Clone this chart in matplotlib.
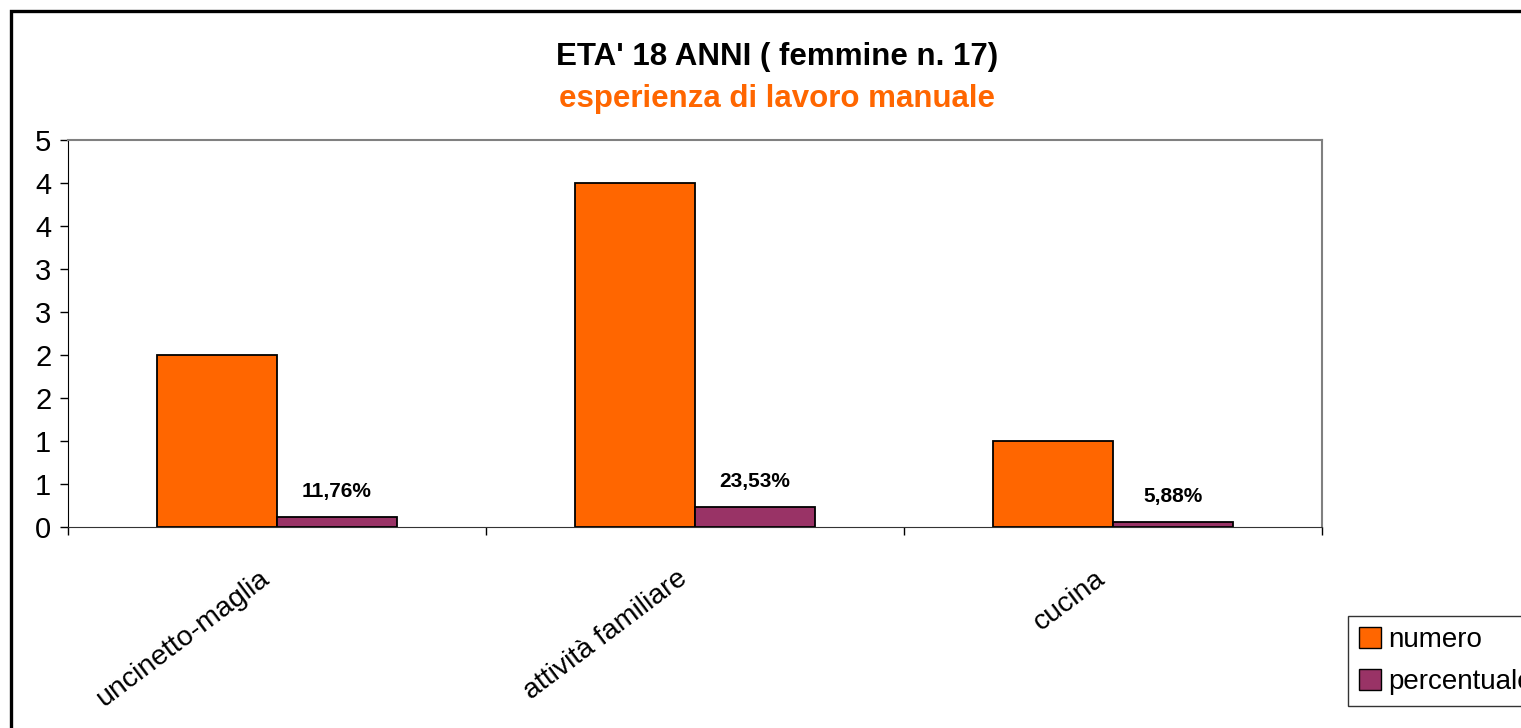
#!/usr/bin/env python3

import matplotlib
matplotlib.use("Agg")
import matplotlib.pyplot as plt
from matplotlib.patches import Rectangle, Patch
import numpy as np

# Data
categories = ["uncinetto-maglia", "attività familiare", "cucina"]
numero = [2, 4, 1]
percentuale = [0.1176, 0.2353, 0.0588]
perc_labels = ["11,76%", "23,53%", "5,88%"]

# Excel-style axis: ticks every 0.5, labels rounded to integers
y_ticks = [0, 0.5, 1, 1.5, 2, 2.5, 3, 3.5, 4, 4.5]
y_tick_labels = ["0", "1", "1", "2", "2", "3", "3", "4", "4", "5"]

orange = "#FF6600"
purple = "#993366"

plt.rc("font", family=["Liberation Sans", "DejaVu Sans"])

W, H = 1521, 728
fig = plt.figure(figsize=(W / 100, H / 100), dpi=100)

# outer chart frame (runs off the right and bottom edges)
fig.patches.append(Rectangle((11 / W, -0.2), 1.2, 1.2 - 11 / H,
                             transform=fig.transFigure, fill=False,
                             edgecolor="black", linewidth=2.4))

ax = fig.add_axes([68 / W, 1 - 527 / H, (1322 - 68) / W, (527 - 140) / H])

x = np.arange(len(categories))
w = 120 / 418
ax.bar(x - w / 2, numero, width=w, color=orange, edgecolor="black", linewidth=1.3)
ax.bar(x + w / 2, percentuale, width=w, color=purple, edgecolor="black", linewidth=1.3)

for xi, v, lab in zip(x, percentuale, perc_labels):
    ax.annotate(lab, (xi + w / 2, v), xytext=(0, 25), textcoords="offset pixels",
                ha="center", va="center", fontsize=15, fontweight="bold")

ax.set_xlim(-0.5, 2.5)
ax.set_ylim(0, 4.5)
ax.set_yticks(y_ticks)
ax.set_yticklabels(y_tick_labels, fontsize=21)
ax.tick_params(axis="y", direction="out", length=6, width=1, pad=6)

ax.set_xticks(x)
ax.set_xticklabels([])
ax.tick_params(axis="x", which="major", length=0)
ax.set_xticks([-0.5, 0.5, 1.5, 2.5], minor=True)
ax.tick_params(axis="x", which="minor", direction="out", length=6, width=1)

for xi, lab in zip(x, categories):
    ax.text(xi - 0.045, -0.1, lab, transform=ax.get_xaxis_transform(),
            rotation=37, rotation_mode="anchor", ha="right", va="top",
            fontsize=20.5)

ax.spines["top"].set_color("#808080")
ax.spines["right"].set_color("#808080")
ax.spines["top"].set_linewidth(1.5)
ax.spines["right"].set_linewidth(1.5)
ax.spines["left"].set_color("black")
ax.spines["bottom"].set_color("#333333")

fig.text(0.511, 1 - 57 / H, "ETA' 18 ANNI ( femmine n. 17)", ha="center",
         va="center", fontsize=22.5, fontweight="bold")
fig.text(0.511, 1 - 99 / H, "esperienza di lavoro manuale", ha="center",
         va="center", fontsize=22.5, fontweight="bold", color=orange)

handles = [Patch(facecolor=orange, edgecolor="black"),
           Patch(facecolor=purple, edgecolor="black")]
leg = fig.legend(handles, ["numero", "percentuale"], loc="upper left",
                 bbox_to_anchor=(1348 / W, 1 - 616 / H), fontsize=20,
                 frameon=True, fancybox=False, shadow=False,
                 handlelength=0.8, handleheight=0.8, handletextpad=0.25,
                 borderpad=0.4, labelspacing=0.55, borderaxespad=0)
leg.get_frame().set_edgecolor("black")
leg.get_frame().set_linewidth(1)

plt.savefig("out.png", dpi=100)
